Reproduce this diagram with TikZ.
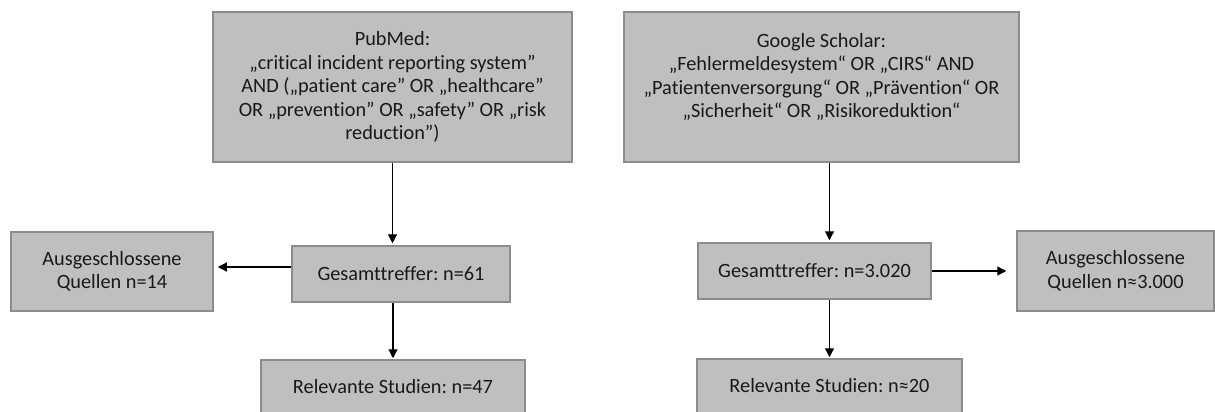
\documentclass[tikz,border=0pt]{standalone}
\usepackage{fontspec}
\setmainfont{Carlito}[Ligatures={NoCommon}]
\frenchspacing
\usetikzlibrary{arrows.meta}
\begin{document}
\begin{tikzpicture}[x=1pt,y=-1pt,
  box/.style={draw=black!45,line width=1.5pt,fill=black!25,inner sep=0pt,
    align=center,font=\fontsize{20.3}{23.5}\selectfont\frenchspacing,text=black!90},
  arr/.style={line width=1.2pt,-{Triangle[length=9pt,width=9pt]}}]
\useasboundingbox (0,0) rectangle (1215,412);
\node[box,minimum width=359pt,minimum height=150pt] (pm) at (392.5,87)
  {PubMed:\\„critical incident reporting system"\\AND („patient care" OR „healthcare"\\OR „prevention" OR „safety" OR „risk\\reduction")};
\node[box,minimum width=395pt,minimum height=150pt] (gs) at (821.5,87)
  {Google Scholar:\\„Fehlermeldesystem“ OR „CIRS“ AND\\„Patientenversorgung“ OR „Prävention“ OR\\„Sicherheit“ OR „Risikoreduktion“\\\mbox{}};
\node[box,minimum width=218pt,minimum height=56pt] (gl) at (401,274) {Gesamttreffer: n=61};
\node[box,minimum width=202pt,minimum height=79pt] (al) at (112,271.5) {Ausgeschlossene\\Quellen n=14};
\node[box,minimum width=264pt,minimum height=54pt] (rl) at (393,387) {Relevante Studien: n=47};
\node[box,minimum width=233pt,minimum height=56pt] (gr) at (814.5,271) {Gesamttreffer: n=3.020};
\node[box,minimum width=197pt,minimum height=80pt] (ar) at (1115.5,271) {Ausgeschlossene\\Quellen n≈3.000};
\node[box,minimum width=265pt,minimum height=54pt] (rr) at (829.5,386) {Relevante Studien: n≈20};
\draw[arr,shorten >=2pt] (pm.south) -- (pm.south |- gl.north);
\draw[arr,shorten >=4pt] ([yshift=7pt]gl.west) -- ([yshift=7pt]gl.west -| al.east);
\draw[arr,shorten >=1pt] (rl.north |- gl.south) -- (rl.north);
\draw[arr,shorten >=2pt] (rr.north |- gs.south) -- (rr.north |- gr.north);
\draw[arr,shorten >=10pt] (gr.east) -- (ar.west);
\draw[arr,shorten >=1pt] (rr.north |- gr.south) -- (rr.north);
\end{tikzpicture}
\end{document}
